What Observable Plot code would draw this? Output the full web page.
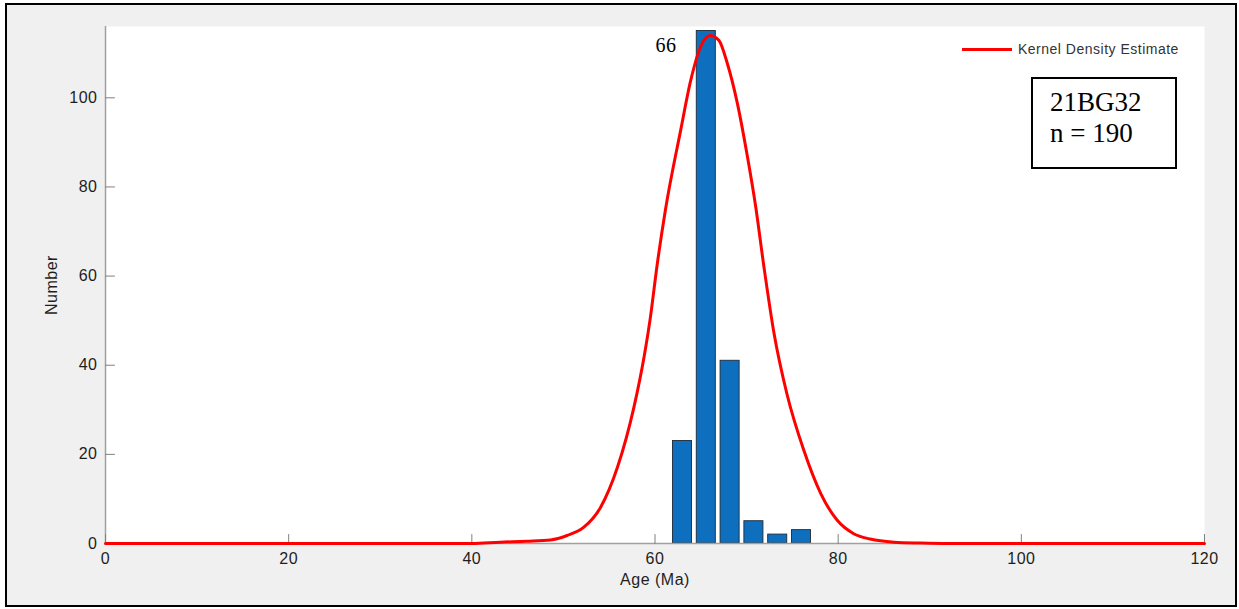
<!DOCTYPE html>
<html>
<head>
<meta charset="utf-8">
<script src="https://cdn.jsdelivr.net/npm/d3@7"></script>
<script src="https://cdn.jsdelivr.net/npm/@observablehq/plot@0.6"></script>
<style>
html, body { margin: 0; padding: 0; background: #fff; }
#wrap { position: relative; width: 1239px; height: 609px; overflow: hidden; }
#panel { position: absolute; left: 5px; top: 3px; width: 1232px; height: 604px; box-sizing: border-box; border: 2px solid #000; background: #f0f0f0; }
#chart { position: absolute; left: 0; top: 0; }
#legline { position: absolute; left: 962px; top: 47.5px; width: 50px; height: 3px; background: #ff0000; }
#legtext { position: absolute; left: 1018px; top: 41px; font-family: "Liberation Sans", Arial, sans-serif; font-size: 14px; letter-spacing: 0.5px; line-height: 16px; color: #333; white-space: nowrap; }
#box { position: absolute; left: 1031px; top: 77px; width: 146px; height: 92px; box-sizing: border-box; border: 2px solid #000; background: #fff; font-family: "Liberation Serif", "Times New Roman", serif; font-size: 27px; line-height: 31px; color: #000; padding: 8px 0 0 17px; }
</style>
</head>
<body>
<div id="wrap">
  <div id="panel"></div>
  <div id="chart"></div>
  <div id="legline"></div>
  <div id="legtext"></div>
  <div id="box"></div>
</div>
<script>
// Histogram bins (bin start, Ma) and counts
const binStart = [61.7, 64.3, 66.9, 69.5, 72.1, 74.7];
const binWidth = 2.6;
const counts = [23, 115, 41, 5, 2, 3];

// Kernel density estimate curve
const kdeAge = [0, 40, 43.1, 46, 48.6, 50.4, 52.2, 54.05, 55.9, 57.7, 58.8, 59.5, 60.2, 61.15, 62.8, 63.9, 64.97, 66.0, 66.97, 67.9, 69.0, 70.1, 71.0, 71.9, 73.0, 74.4, 76.25, 78.1, 79.9, 81.7, 83.5, 86.1, 89, 92, 120];
const kdeValue = [0, 0, 0.3, 0.5, 0.8, 1.8, 3.6, 8.1, 17.1, 30.6, 41.8, 50.8, 62.0, 75.0, 92.7, 103.9, 111.4, 114.0, 112.9, 107.7, 98.7, 86.7, 75.5, 62.0, 47.1, 33.6, 20.9, 11.2, 5.2, 2.2, 1.0, 0.3, 0.1, 0, 0];

// Ticks
const xTicks = [0, 20, 40, 60, 80, 100, 120];
const yTicks = [0, 20, 40, 60, 80, 100];

// Annotations
const peakLabel = [{age: 66, count: 115, text: "66"}];
const legendLabel = "Kernel Density Estimate";
const sampleLines = ["21BG32", "n = 190"];

const bars = binStart.map((s, i) => ({start: s, end: s + binWidth, count: counts[i]}));
const kde = kdeAge.map((a, i) => ({age: a, value: kdeValue[i]}));

const barFrac = 0.8;
const tickShape = {draw(context, l) { context.moveTo(0, 0); context.lineTo(0, -l); }};
const axisGray = "#a0a0a0";

const chart = Plot.plot({
  width: 1239,
  height: 609,
  marginLeft: 105,
  marginRight: 35,
  marginTop: 26,
  marginBottom: 66,
  style: {background: "transparent", fontFamily: "'Liberation Sans', Arial, sans-serif", fontSize: "16px", letterSpacing: "0.5px", color: "#1e1e1e"},
  x: {domain: [0, 120]},
  y: {domain: [0, 116]},
  marks: [
    Plot.frame({fill: "white", stroke: "none"}),
    Plot.rect(bars, {
      x1: d => d.start + binWidth * (1 - barFrac) / 2,
      x2: d => d.end - binWidth * (1 - barFrac) / 2,
      y1: 0,
      y2: "count",
      fill: "#0f6fbf",
      stroke: "#1f2a36",
      strokeWidth: 0.9
    }),
    Plot.ruleX([0], {stroke: axisGray, strokeWidth: 1.5}),
    Plot.ruleY([0], {stroke: axisGray, strokeWidth: 1.5}),
    Plot.vector(yTicks, {x: 0, y: d => d, length: 9, rotate: 90, anchor: "start", shape: tickShape, stroke: "#808080", strokeWidth: 1}),
    Plot.vector(xTicks, {x: d => d, y: 0, length: 9, rotate: 0, anchor: "start", shape: tickShape, stroke: "#808080", strokeWidth: 1}),
    Plot.lineY(kde, {x: "age", y: "value", stroke: "#ff0000", strokeWidth: 3, curve: "monotone-x"}),
    Plot.text(peakLabel, {x: "age", y: "count", text: "text", dx: -44, dy: 15, fontFamily: "'Liberation Serif', 'Times New Roman', serif", fontSize: 20, fill: "#000"}),
    Plot.axisX({ticks: xTicks, tickSize: 0, tickPadding: 9, label: "Age (Ma)", labelArrow: "none", labelAnchor: "center", labelOffset: 41}),
    Plot.axisY({ticks: yTicks, tickSize: 0, tickPadding: 8, label: "Number", labelArrow: "none", labelAnchor: "center", labelOffset: 60})
  ]
});
document.getElementById("chart").appendChild(chart);
document.getElementById("legtext").textContent = legendLabel;
document.getElementById("box").innerHTML = sampleLines.map(s => `<div>${s}</div>`).join("");
</script>
</body>
</html>
